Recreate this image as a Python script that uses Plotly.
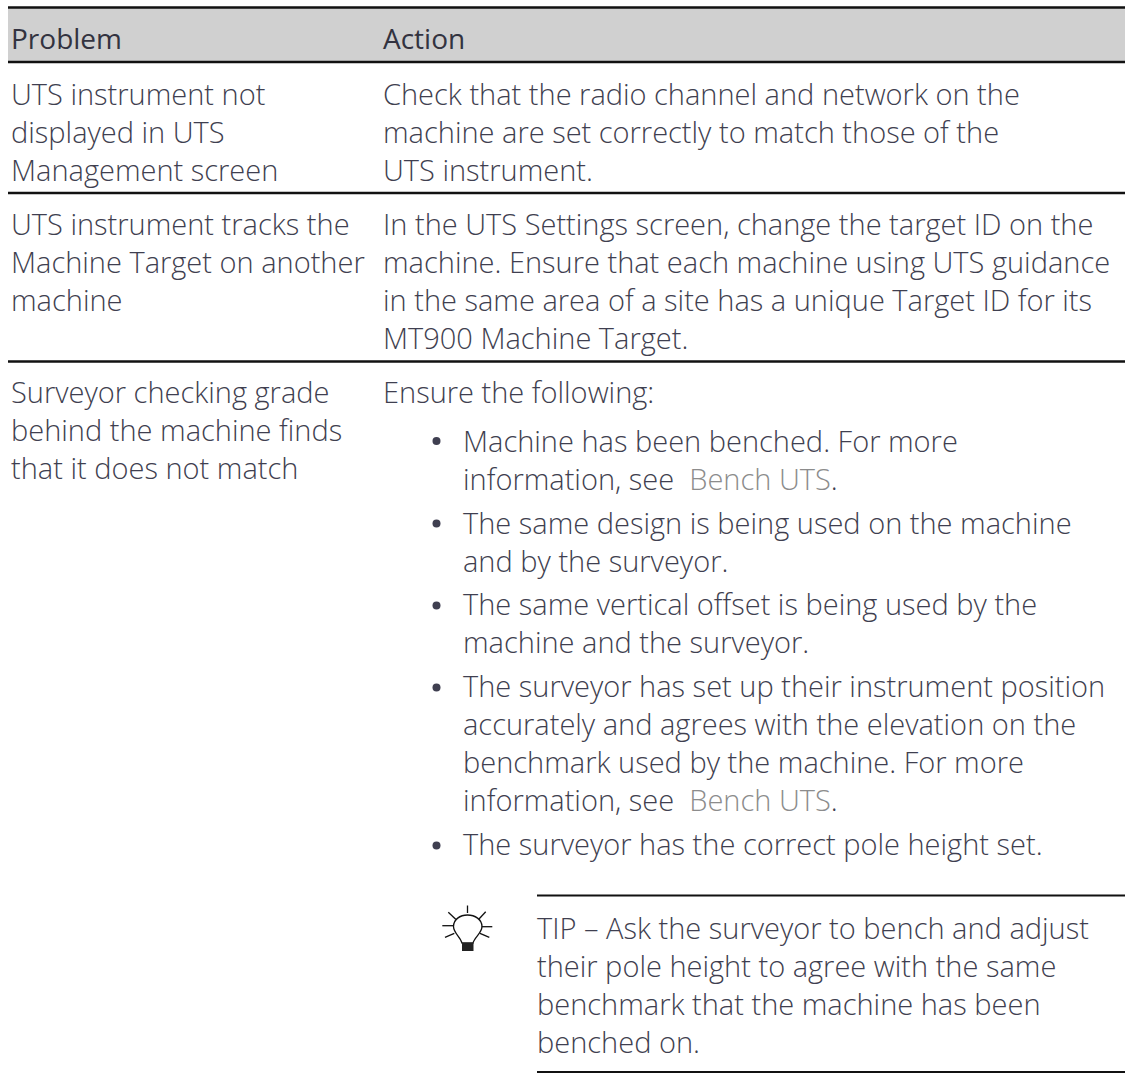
import plotly.graph_objects as go

FONT = "Open Sans"
TEXT_COLOR = "#3f3f50"
LINK = '<span style="color:#8c8c8c">Bench UTS</span>.'
BASE_OFFSET = 10.5  # baseline to centre of a text line

headers = ["Problem", "Action"]
header_x = [11, 383]
header_base = [48, 48]

left_x = 11
problem_lines = [
    ("UTS instrument not", 104), ("displayed in UTS", 142), ("Management screen", 180),
    ("UTS instrument tracks the", 234), ("Machine Target on another", 272), ("machine", 310),
    ("Surveyor checking grade", 402), ("behind the machine finds", 440), ("that it does not match", 478),
]
action_x = 383
action_lines = [
    ("Check that the radio channel and network on the", 104),
    ("machine are set correctly to match those of the", 142),
    ("UTS instrument.", 180),
    ("In the UTS Settings screen, change the target ID on the", 234),
    ("machine. Ensure that each machine using UTS guidance", 272),
    ("in the same area of a site has a unique Target ID for its", 310),
    ("MT900 Machine Target.", 348),
    ("Ensure the following:", 402),
]
bullet_x = 436.5
bullet_text_x = 463
bullet_lines = [
    ("Machine has been benched. For more", 451),
    ("information, see  " + LINK, 489),
    ("The same design is being used on the machine", 533),
    ("and by the surveyor.", 571),
    ("The same vertical offset is being used by the", 614),
    ("machine and the surveyor.", 652),
    ("The surveyor has set up their instrument position", 696),
    ("accurately and agrees with the elevation on the", 734),
    ("benchmark used by the machine. For more", 772),
    ("information, see  " + LINK, 810),
    ("The surveyor has the correct pole height set.", 854),
]
bullet_y = [441, 523.5, 605.5, 687.5, 845.5]
tip_x = 537
tip_lines = [
    ("TIP – Ask the surveyor to bench and adjust", 938),
    ("their pole height to agree with the same", 976),
    ("benchmark that the machine has been", 1014),
    ("benched on.", 1052),
]
rule_left = 8
rule_right = 1125
rule_y = [7.5, 62, 193, 361.5]
tip_rule_y = [895.5, 1072]
header_fill = [7.5, 62]

fig = go.Figure()
fig.add_trace(go.Scatter(x=[bullet_x] * len(bullet_y), y=bullet_y, mode="markers",
                         marker=dict(size=8, color=TEXT_COLOR), hoverinfo="skip", showlegend=False))

def label(x, base, t, color=TEXT_COLOR, weight=300, size=29):
    fig.add_annotation(x=x, y=base - BASE_OFFSET * size / 29, text=t, xref="x", yref="y",
                       xanchor="left", yanchor="middle", showarrow=False, borderpad=0, borderwidth=0,
                       align="left", font=dict(family=FONT, size=size, color=color, weight=weight))

for t, x, y in zip(headers, header_x, header_base):
    label(x, y, t, color="#333340", weight=400, size=28)
for t, y in problem_lines:
    label(left_x, y, t)
for t, y in action_lines:
    label(action_x, y, t)
for t, y in bullet_lines:
    label(bullet_text_x, y, t)
for t, y in tip_lines:
    label(tip_x, y, t)

fig.add_shape(type="rect", x0=rule_left, x1=rule_right, y0=header_fill[0], y1=header_fill[1],
              fillcolor="#d0d0d0", line_width=0, layer="below")
for y in rule_y:
    fig.add_shape(type="line", x0=rule_left, x1=rule_right, y0=y, y1=y, line=dict(color="#111111", width=2.5))
for y in tip_rule_y:
    fig.add_shape(type="line", x0=tip_x, x1=rule_right, y0=y, y1=y, line=dict(color="#111111", width=2))

# bulb icon
bulb = ("M 462 943 L 473 943 C 474.5 937 482 933 482 926.5 C 482 919.5 475 915 467.5 915 "
        "C 460 915 453.5 919.5 453.5 926.5 C 453.5 933 460.5 937 462 943 Z")
fig.add_shape(type="path", path=bulb, line=dict(color="#111111", width=1.3))
fig.add_shape(type="rect", x0=462, x1=473.5, y0=943, y1=951, fillcolor="#222222", line_width=0)
rays = [(467.5, 905.5, 467.5, 913), (448.3, 912.3, 455.7, 919.3), (485.7, 911.7, 479, 919),
        (442.3, 925.7, 453.3, 925.7), (481.7, 926.7, 492.3, 926.7),
        (445, 937.3, 454.3, 933.3), (489.3, 937.3, 480, 933.3)]
for x0, y0, x1, y1 in rays:
    fig.add_shape(type="line", x0=x0, y0=y0, x1=x1, y1=y1, line=dict(color="#111111", width=1.3))

fig.update_layout(
    width=1125, height=1077, autosize=False,
    margin=dict(l=0, r=0, t=0, b=0),
    paper_bgcolor="white", plot_bgcolor="white",
    xaxis=dict(range=[0, 1125], visible=False, fixedrange=True),
    yaxis=dict(range=[1077, 0], visible=False, fixedrange=True),
    showlegend=False,
)
fig.write_html("out.html", config=dict(displayModeBar=False),
               post_script="document.body.style.margin='0';document.documentElement.style.overflow='hidden';")
